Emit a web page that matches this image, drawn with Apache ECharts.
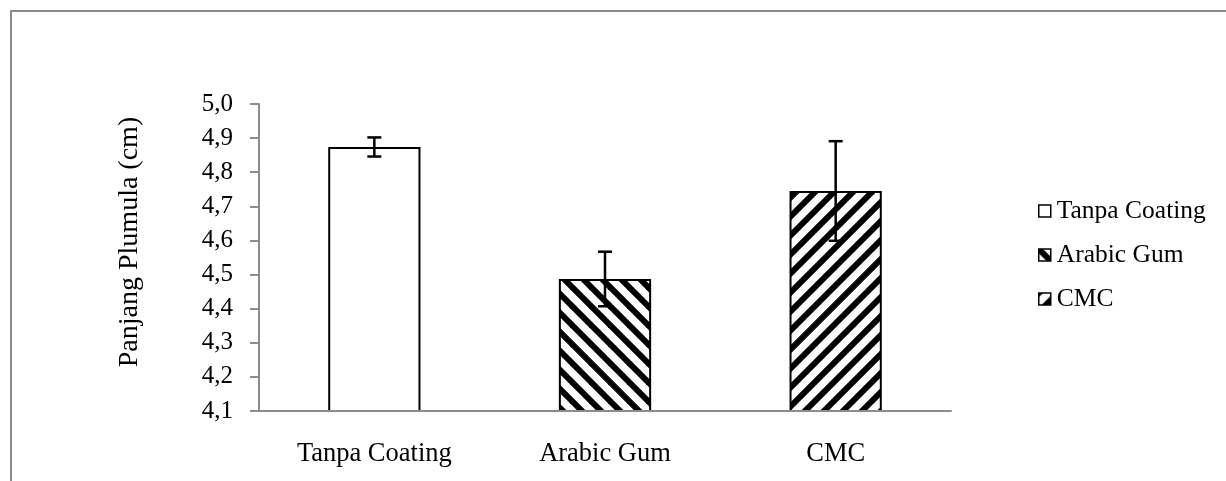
<!DOCTYPE html>
<html>
<head>
<meta charset="utf-8">
<script src="https://cdn.jsdelivr.net/npm/echarts@6/dist/echarts.min.js"></script>
<style>
  html, body { margin: 0; padding: 0; background: #fff; }
  #chart { width: 1226px; height: 481px; }
</style>
</head>
<body>
<div id="chart"></div>
<script>
var categories = ['Tanpa Coating', 'Arabic Gum', 'CMC'];
var means = [4.874, 4.487, 4.745];
var errors = [0.028, 0.08, 0.146];
var yTicks = { min: 4.1, max: 5.0, step: 0.1 };

var FONT = '"Liberation Serif", "Times New Roman", serif';
var GRAY = '#8c8c8c';

// diagonal hatch tile, dir 1 = "\" , dir -1 = "/"
function hatch(dir) {
  var s = 19;
  var c = document.createElement('canvas');
  c.width = s; c.height = s;
  var ctx = c.getContext('2d');
  ctx.fillStyle = '#fff';
  ctx.fillRect(0, 0, s, s);
  ctx.strokeStyle = '#000';
  ctx.lineWidth = 6;
  [-s, 0, s].forEach(function(k) {
    ctx.beginPath();
    if (dir > 0) { ctx.moveTo(k - s, -s); ctx.lineTo(k + 2 * s, 2 * s); }
    else { ctx.moveTo(k - s, 2 * s); ctx.lineTo(k + 2 * s, -s); }
    ctx.stroke();
  });
  return { image: c, repeat: 'repeat' };
}

var fills = ['#ffffff', hatch(1), hatch(-1)];

var series = categories.map(function(name, i) {
  return {
    name: name,
    type: 'bar',
    barWidth: '40%',
    barGap: '-100%',
    data: categories.map(function(_, j) { return j === i ? means[i] : '-'; }),
    itemStyle: { color: fills[i], borderColor: '#000', borderWidth: 2 },
    emphasis: { disabled: true },
    z: 2
  };
});

series.push({
  type: 'custom',
  name: 'err',
  data: means.map(function(m, i) { return [i, m - errors[i], m + errors[i]]; }),
  z: 5,
  renderItem: function(params, api) {
    var lo = api.coord([api.value(0), api.value(1)]);
    var hi = api.coord([api.value(0), api.value(2)]);
    var cap = 7;
    var st = { stroke: '#000', lineWidth: 2.5 };
    return {
      type: 'group',
      children: [
        { type: 'line', shape: { x1: hi[0], y1: hi[1], x2: lo[0], y2: lo[1] }, style: st },
        { type: 'line', shape: { x1: hi[0] - cap, y1: hi[1], x2: hi[0] + cap, y2: hi[1] }, style: st },
        { type: 'line', shape: { x1: lo[0] - cap, y1: lo[1], x2: lo[0] + cap, y2: lo[1] }, style: st }
      ]
    };
  }
});

var chart = echarts.init(document.getElementById('chart'));
chart.setOption({
  animation: false,
  backgroundColor: '#fff',
  textStyle: { fontFamily: FONT, color: '#000' },
  graphic: [
    { type: 'rect', shape: { x: 11, y: 11, width: 1400, height: 700 },
      style: { fill: 'none', stroke: GRAY, lineWidth: 2 }, silent: true },
    { type: 'text', x: 130, y: 242, rotation: Math.PI / 2,
      style: { text: 'Panjang Plumula (cm)', font: '28px ' + FONT, fill: '#000',
               align: 'center', verticalAlign: 'middle' } }
  ],
  grid: { left: 259, right: 275, top: 104, bottom: 70 },
  legend: {
    orient: 'vertical',
    left: 1033,
    top: 193,
    itemWidth: 12,
    itemHeight: 12,
    itemGap: 18,
    icon: 'rect',
    data: categories,
    itemStyle: { borderColor: '#000', borderWidth: 1.5 },
    textStyle: { fontFamily: FONT, fontSize: 25.5, color: '#000', lineHeight: 26, padding: [0, 0, 0, 1] }
  },
  xAxis: {
    type: 'category',
    data: categories,
    z: 3,
    axisLine: { lineStyle: { color: GRAY, width: 2 } },
    axisTick: { length: 7, lineStyle: { color: GRAY, width: 2 } },
    axisLabel: { fontFamily: FONT, fontSize: 26.5, color: '#000', margin: 30 }
  },
  yAxis: {
    type: 'value',
    min: yTicks.min,
    max: yTicks.max,
    interval: yTicks.step,
    axisLine: { show: true, lineStyle: { color: GRAY, width: 2 } },
    axisTick: { show: true, length: 9, lineStyle: { color: GRAY, width: 2 } },
    splitLine: { show: false },
    axisLabel: {
      fontFamily: FONT, fontSize: 25, color: '#000', margin: 26,
      formatter: function(v) { return v.toFixed(1).replace('.', ','); }
    }
  },
  series: series
});
</script>
</body>
</html>
